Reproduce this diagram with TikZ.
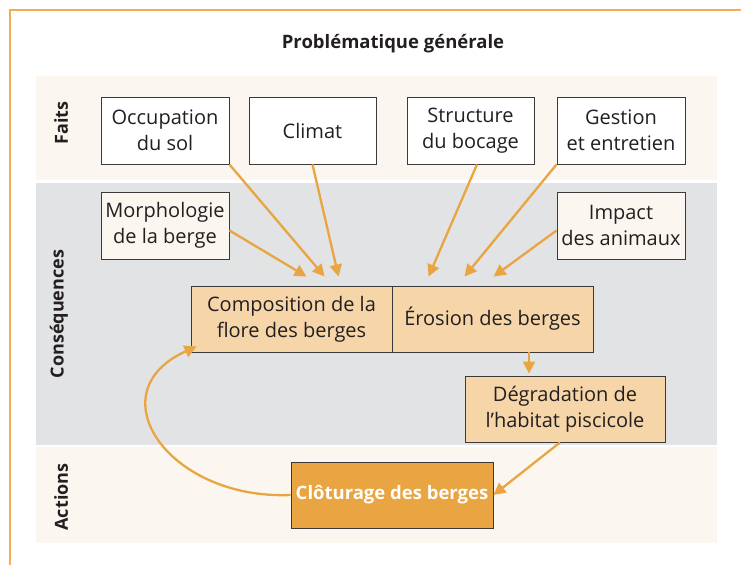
\documentclass[tikz,border=0pt]{standalone}
\usepackage{fontspec}
\setmainfont{Open Sans}
\usetikzlibrary{arrows.meta,calc}
\definecolor{cream}{HTML}{FBF7F0}
\definecolor{bandgray}{HTML}{E2E3E5}
\definecolor{lightor}{HTML}{F6D6A9}
\definecolor{darkor}{HTML}{E8A542}
\definecolor{arrowor}{HTML}{E8A542}
\definecolor{frameor}{HTML}{F0B050}
\definecolor{boxline}{HTML}{3A3A3A}
\definecolor{txt}{HTML}{231F20}
\tikzset{
  basebox/.style={draw=boxline, line width=0.9pt, inner sep=0pt, align=center,
    minimum height=67pt, text=txt, font=\fontsize{20}{26}\selectfont},
  factbox/.style={basebox, fill=white, minimum width=128pt},
  consbox/.style={basebox, fill=cream, minimum width=128pt},
  midbox/.style={basebox, fill=lightor, minimum width=201pt, minimum height=66pt},
  actbox/.style={basebox, fill=darkor, minimum width=202pt, minimum height=66pt,
    text=white, font=\bfseries\fontsize{18.5}{22}\selectfont},
  bandlabel/.style={rotate=90, text=txt, font=\bfseries\fontsize{18}{20}\selectfont},
  flow/.style={draw=arrowor, line width=2.3pt, -{Triangle[length=12pt,width=12pt]}},
}
\begin{document}
\begin{tikzpicture}[x=1pt,y=-1pt]
\useasboundingbox (0,0) rectangle (741,565);
% frame
\draw[frameor, line width=1.5pt] (10,565) -- (10,10) -- (741,10);
% bands
\fill[cream] (36,76) rectangle (717,180);
\fill[bandgray] (36,183) rectangle (717,445);
\fill[cream] (36,447) rectangle (717,543);
% title
\node[text=txt, font=\bfseries\fontsize{18.5}{21}\selectfont] (title) at (393,44) {Problématique générale};
% band labels
\node[bandlabel] (lfaits) at (61,123) {Faits};
\node[bandlabel] (lcons) at (59,314) {Conséquences};
\node[bandlabel] (lact) at (61,497) {Actions};
% boxes
\node[factbox] (occ) at (165,130.5) {Occupation\\du sol};
\node[factbox, minimum width=127pt] (clim) at (312.5,130.5) {Climat};
\node[factbox, minimum width=127pt] (struct) at (470.5,130.5) {Structure\\du bocage};
\node[factbox] (gest) at (621,130.5) {Gestion\\et entretien};
\node[consbox] (morph) at (165,225.5) {Morphologie\\de la berge};
\node[consbox] (impact) at (621,225.5) {Impact\\des animaux};
\node[midbox] (comp) at (291.5,319) {Composition de la\\flore des berges};
\node[midbox] (eros) at (492.5,319) {Érosion des berges};
\node[midbox, minimum width=200pt] (degr) at (565,409) {Dégradation de\\l’habitat piscicole};
\node[actbox] (clo) at (392,495) {Clôturage des berges};
% arrows
\draw[flow] (occ.south east) -- ([xshift=134pt,yshift=9pt]comp.north west);
\draw[flow] (clim.south) -- ([xshift=148pt,yshift=9pt]comp.north west);
\draw[flow] ([yshift=-5pt]morph.east) -- ([xshift=116pt,yshift=9pt]comp.north west);
\draw[flow] ([xshift=6.5pt]struct.south) -- ([xshift=37pt,yshift=9pt]eros.north west);
\draw[flow] (gest.south west) -- ([xshift=73pt,yshift=9pt]eros.north west);
\draw[flow] ([yshift=-5pt]impact.west) -- ([xshift=102pt,yshift=9pt]eros.north west);
\draw[flow] ([xshift=36.5pt]eros.south) -- ([xshift=-36pt,yshift=2pt]degr.north);
\draw[flow] ([xshift=-5pt]degr.south) -- (clo.east);
\draw[flow] (clo.west) .. controls (168,500) and (95,392) .. ([xshift=6pt,yshift=6pt]comp.south west);
\end{tikzpicture}
\end{document}
